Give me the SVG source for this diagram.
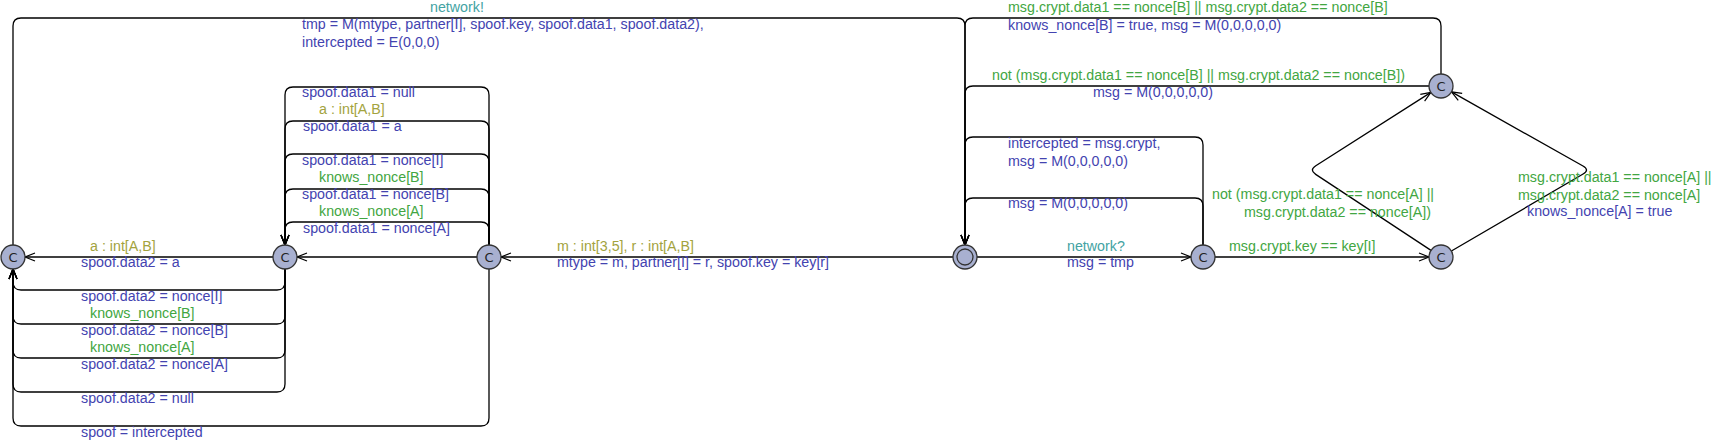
<svg xmlns="http://www.w3.org/2000/svg" width="1713" height="445" viewBox="0 0 1713 445">
<style>
.e{fill:none;stroke:#000;stroke-width:1.3}
.n{fill:#a8b0d0;stroke:#333;stroke-width:1.3}
.c{font-family:"DejaVu Sans",sans-serif;font-size:13px;fill:#222;text-anchor:middle;dominant-baseline:central}
text{font-family:"Liberation Sans",Arial,sans-serif;font-size:14.25px}
.u{fill:#4343b0}
.g{fill:#42a642}
.s{fill:#a3a33e}
.y{fill:#43a3a3}
</style>
<defs>
<marker id="a" viewBox="0 0 12 10" refX="11" refY="5" markerWidth="12" markerHeight="10" markerUnits="userSpaceOnUse" orient="auto">
<path d="M1,1 L11,5 L1,9" fill="none" stroke="#000" stroke-width="1.2"/>
</marker>
</defs>
<g id="connectors">
<path class="e" marker-end="url(#a)" d="M13,245 V26 Q13,18 21,18 H957 Q965,18 965,26 V245"/>
<path class="e" marker-end="url(#a)" d="M1441,74 V26 Q1441,18 1433,18 H973 Q965,18 965,26 V245"/>
<path class="e" marker-end="url(#a)" d="M1429,86 H973 Q965,86 965,94 V245"/>
<path class="e" marker-end="url(#a)" d="M1203,245 V145 Q1203,137 1195,137 H973 Q965,137 965,145 V245"/>
<path class="e" marker-end="url(#a)" d="M1203,245 V206 Q1203,198 1195,198 H973 Q965,198 965,206 V245"/>
<path class="e" marker-end="url(#a)" d="M977,257 H1191"/>
<path class="e" marker-end="url(#a)" d="M1215,257 H1429"/>
<path class="e" marker-end="url(#a)" d="M1431,250.4 L1315.7,174.4 Q1309,170 1315.8,165.7 L1430.9,92.4"/>
<path class="e" marker-end="url(#a)" d="M1451.4,251 L1583.1,174 Q1590,170 1583,166 L1451.5,91.9"/>
<path class="e" marker-end="url(#a)" d="M489,269 V418 Q489,426 481,426 H21 Q13,426 13,418 V269"/>
<path class="e" marker-end="url(#a)" d="M285,269 V282 Q285,290 277,290 H21 Q13,290 13,282 V269"/>
<path class="e" marker-end="url(#a)" d="M285,269 V316 Q285,324 277,324 H21 Q13,324 13,316 V269"/>
<path class="e" marker-end="url(#a)" d="M285,269 V350 Q285,358 277,358 H21 Q13,358 13,350 V269"/>
<path class="e" marker-end="url(#a)" d="M285,269 V384 Q285,392 277,392 H21 Q13,392 13,384 V269"/>
<path class="e" marker-end="url(#a)" d="M273,257 H25"/>
<path class="e" marker-end="url(#a)" d="M477,257 H297"/>
<path class="e" marker-end="url(#a)" d="M489,245 V95 Q489,87 481,87 H293 Q285,87 285,95 V245"/>
<path class="e" marker-end="url(#a)" d="M489,245 V129 Q489,121 481,121 H293 Q285,121 285,129 V245"/>
<path class="e" marker-end="url(#a)" d="M489,245 V162 Q489,154 481,154 H293 Q285,154 285,162 V245"/>
<path class="e" marker-end="url(#a)" d="M489,245 V197 Q489,189 481,189 H293 Q285,189 285,197 V245"/>
<path class="e" marker-end="url(#a)" d="M489,245 V230 Q489,222 481,222 H293 Q285,222 285,230 V245"/>
<path class="e" marker-end="url(#a)" d="M953,257 H501"/>
</g>
<g id="labels">
<text x="430" y="12" class="y">network!</text>
<text x="302" y="29" class="u">tmp = M(mtype, partner[I], spoof.key, spoof.data1, spoof.data2),</text>
<text x="302" y="47" class="u">intercepted = E(0,0,0)</text>
<text x="302" y="97" class="u">spoof.data1 = null</text>
<text x="319" y="114" class="s">a : int[A,B]</text>
<text x="303" y="131" class="u">spoof.data1 = a</text>
<text x="302" y="165" class="u">spoof.data1 = nonce[I]</text>
<text x="319" y="182" class="g">knows_nonce[B]</text>
<text x="302" y="199" class="u">spoof.data1 = nonce[B]</text>
<text x="319" y="216" class="g">knows_nonce[A]</text>
<text x="303" y="233" class="u">spoof.data1 = nonce[A]</text>
<text x="90" y="251" class="s">a : int[A,B]</text>
<text x="81" y="267" class="u">spoof.data2 = a</text>
<text x="81" y="301" class="u">spoof.data2 = nonce[I]</text>
<text x="90" y="318" class="g">knows_nonce[B]</text>
<text x="81" y="335" class="u">spoof.data2 = nonce[B]</text>
<text x="90" y="352" class="g">knows_nonce[A]</text>
<text x="81" y="369" class="u">spoof.data2 = nonce[A]</text>
<text x="81" y="403" class="u">spoof.data2 = null</text>
<text x="81" y="437" class="u">spoof = intercepted</text>
<text x="557" y="251" class="s">m : int[3,5], r : int[A,B]</text>
<text x="557" y="267" class="u">mtype = m, partner[I] = r, spoof.key = key[r]</text>
<text x="1067" y="251" class="y">network?</text>
<text x="1067" y="267" class="u">msg = tmp</text>
<text x="1229" y="251" class="g">msg.crypt.key == key[I]</text>
<text x="1212" y="199" class="g">not (msg.crypt.data1 == nonce[A] ||</text>
<text x="1244" y="217" class="g">msg.crypt.data2 == nonce[A])</text>
<text x="1518" y="182" class="g">msg.crypt.data1 == nonce[A] ||</text>
<text x="1518" y="200" class="g">msg.crypt.data2 == nonce[A]</text>
<text x="1527" y="216" class="u">knows_nonce[A] = true</text>
<text x="1008" y="12" class="g">msg.crypt.data1 == nonce[B] || msg.crypt.data2 == nonce[B]</text>
<text x="1008" y="30" class="u">knows_nonce[B] = true, msg = M(0,0,0,0,0)</text>
<text x="992" y="80" class="g">not (msg.crypt.data1 == nonce[B] || msg.crypt.data2 == nonce[B])</text>
<text x="1093" y="97" class="u">msg = M(0,0,0,0,0)</text>
<text x="1008" y="148" class="u">intercepted = msg.crypt,</text>
<text x="1008" y="166" class="u">msg = M(0,0,0,0,0)</text>
<text x="1008" y="208" class="u">msg = M(0,0,0,0,0)</text>
</g>
<g id="nL"><circle class="n" cx="13" cy="257" r="12"/><text class="c" x="13" y="257">C</text></g>
<g id="nM1"><circle class="n" cx="285" cy="257" r="12"/><text class="c" x="285" y="257">C</text></g>
<g id="nM2"><circle class="n" cx="489" cy="257" r="12"/><text class="c" x="489" y="257">C</text></g>
<g id="nInit"><circle class="n" cx="965" cy="257" r="12"/><circle cx="965" cy="257" r="8" fill="none" stroke="#333" stroke-width="1.3"/></g>
<g id="nN"><circle class="n" cx="1203" cy="257" r="12"/><text class="c" x="1203" y="257">C</text></g>
<g id="nR"><circle class="n" cx="1441" cy="257" r="12"/><text class="c" x="1441" y="257">C</text></g>
<g id="nT"><circle class="n" cx="1441" cy="86" r="12"/><text class="c" x="1441" y="86">C</text></g>
</svg>
